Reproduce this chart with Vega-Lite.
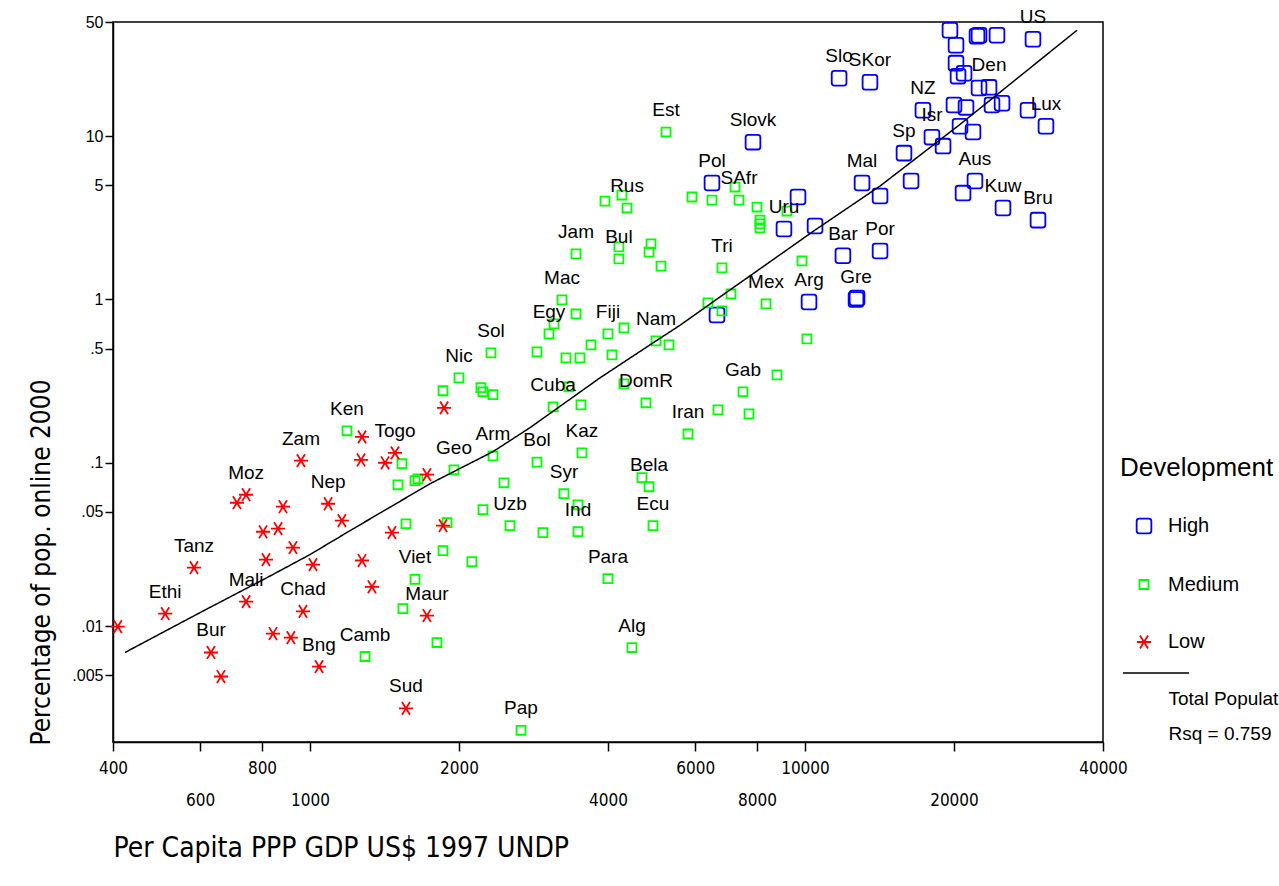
{
  "$schema": "https://vega.github.io/schema/vega-lite/v6.json",
  "width": 990,
  "height": 720,
  "autosize": {"type": "none"},
  "padding": {"left": 113, "top": 22, "right": 176, "bottom": 144},
  "background": "white",
  "config": {"view": {"stroke": "black", "strokeWidth": 1.5}, "font": "Liberation Sans"},
  "datasets": {
    "pts": [
      {"c": "", "d": "High", "x": 19630, "y": 44.5},
      {"c": "", "d": "High", "x": 20190, "y": 36.0},
      {"c": "", "d": "High", "x": 22260, "y": 40.9},
      {"c": "", "d": "High", "x": 22470, "y": 41.5},
      {"c": "", "d": "High", "x": 24430, "y": 41.5},
      {"c": "US", "d": "High", "x": 28880, "y": 39.2},
      {"c": "", "d": "High", "x": 20190, "y": 28.0},
      {"c": "", "d": "High", "x": 20380, "y": 23.3},
      {"c": "", "d": "High", "x": 20960, "y": 24.3},
      {"c": "", "d": "High", "x": 22470, "y": 19.7},
      {"c": "Den", "d": "High", "x": 23540, "y": 19.9},
      {"c": "", "d": "High", "x": 20000, "y": 15.5},
      {"c": "", "d": "High", "x": 21150, "y": 15.0},
      {"c": "", "d": "High", "x": 23870, "y": 15.5},
      {"c": "", "d": "High", "x": 25010, "y": 15.9},
      {"c": "", "d": "High", "x": 28220, "y": 14.4},
      {"c": "Lux", "d": "High", "x": 30680, "y": 11.5},
      {"c": "", "d": "High", "x": 20570, "y": 11.5},
      {"c": "", "d": "High", "x": 21850, "y": 10.6},
      {"c": "NZ", "d": "High", "x": 17310, "y": 14.4},
      {"c": "Isr", "d": "High", "x": 18050, "y": 9.86},
      {"c": "", "d": "High", "x": 19010, "y": 8.69},
      {"c": "Sp", "d": "High", "x": 15850, "y": 7.87},
      {"c": "", "d": "High", "x": 16380, "y": 5.31},
      {"c": "Mal", "d": "High", "x": 13040, "y": 5.16},
      {"c": "", "d": "High", "x": 14180, "y": 4.30},
      {"c": "Aus", "d": "High", "x": 22050, "y": 5.31},
      {"c": "", "d": "High", "x": 20860, "y": 4.48},
      {"c": "Kuw", "d": "High", "x": 25120, "y": 3.63},
      {"c": "Bru", "d": "High", "x": 29560, "y": 3.06},
      {"c": "Slo", "d": "High", "x": 11720, "y": 22.6},
      {"c": "SKor", "d": "High", "x": 13530, "y": 21.4},
      {"c": "Slovk", "d": "High", "x": 7852, "y": 9.19},
      {"c": "Pol", "d": "High", "x": 6488, "y": 5.16},
      {"c": "", "d": "High", "x": 9681, "y": 4.24},
      {"c": "Uru", "d": "High", "x": 9069, "y": 2.70},
      {"c": "", "d": "High", "x": 10480, "y": 2.82},
      {"c": "Bar", "d": "High", "x": 11930, "y": 1.85},
      {"c": "Por", "d": "High", "x": 14180, "y": 1.98},
      {"c": "Arg", "d": "High", "x": 10190, "y": 0.965},
      {"c": "Gre", "d": "High", "x": 12680, "y": 1.0},
      {"c": "", "d": "High", "x": 12740, "y": 1.02},
      {"c": "", "d": "High", "x": 6641, "y": 0.804},
      {"c": "Est", "d": "Medium", "x": 5240, "y": 10.6},
      {"c": "", "d": "Medium", "x": 7224, "y": 4.88},
      {"c": "SAfr", "d": "Medium", "x": 7357, "y": 4.06},
      {"c": "", "d": "Medium", "x": 5912, "y": 4.24},
      {"c": "", "d": "Medium", "x": 6488, "y": 4.06},
      {"c": "", "d": "Medium", "x": 8000, "y": 3.68},
      {"c": "", "d": "Medium", "x": 8113, "y": 3.06},
      {"c": "", "d": "Medium", "x": 8113, "y": 2.90},
      {"c": "", "d": "Medium", "x": 8113, "y": 2.74},
      {"c": "", "d": "Medium", "x": 9195, "y": 3.48},
      {"c": "Rus", "d": "Medium", "x": 4370, "y": 3.63},
      {"c": "", "d": "Medium", "x": 3945, "y": 4.00},
      {"c": "", "d": "Medium", "x": 4268, "y": 4.36},
      {"c": "Jam", "d": "Medium", "x": 3447, "y": 1.90},
      {"c": "Bul", "d": "Medium", "x": 4208, "y": 1.77},
      {"c": "", "d": "Medium", "x": 4208, "y": 2.10},
      {"c": "", "d": "Medium", "x": 4886, "y": 2.19},
      {"c": "", "d": "Medium", "x": 4842, "y": 1.95},
      {"c": "", "d": "Medium", "x": 5119, "y": 1.60},
      {"c": "Tri", "d": "Medium", "x": 6797, "y": 1.56},
      {"c": "", "d": "Medium", "x": 9863, "y": 1.72},
      {"c": "Mac", "d": "Medium", "x": 3230, "y": 0.993},
      {"c": "", "d": "Medium", "x": 3447, "y": 0.815},
      {"c": "Egy", "d": "Medium", "x": 3040, "y": 0.615},
      {"c": "", "d": "Medium", "x": 3112, "y": 0.708},
      {"c": "Fiji", "d": "Medium", "x": 4000, "y": 0.615},
      {"c": "", "d": "Medium", "x": 4309, "y": 0.669},
      {"c": "Nam", "d": "Medium", "x": 5001, "y": 0.557},
      {"c": "", "d": "Medium", "x": 5313, "y": 0.527},
      {"c": "", "d": "Medium", "x": 3696, "y": 0.527},
      {"c": "", "d": "Medium", "x": 2875, "y": 0.477},
      {"c": "", "d": "Medium", "x": 3290, "y": 0.439},
      {"c": "", "d": "Medium", "x": 3511, "y": 0.439},
      {"c": "", "d": "Medium", "x": 4075, "y": 0.458},
      {"c": "Sol", "d": "Medium", "x": 2321, "y": 0.471},
      {"c": "", "d": "Medium", "x": 6368, "y": 0.952},
      {"c": "", "d": "Medium", "x": 6797, "y": 0.850},
      {"c": "", "d": "Medium", "x": 7089, "y": 1.08},
      {"c": "Mex", "d": "Medium", "x": 8343, "y": 0.939},
      {"c": "", "d": "Medium", "x": 10090, "y": 0.573},
      {"c": "Nic", "d": "Medium", "x": 2000, "y": 0.331},
      {"c": "", "d": "Medium", "x": 1857, "y": 0.276},
      {"c": "", "d": "Medium", "x": 2215, "y": 0.288},
      {"c": "", "d": "Medium", "x": 2236, "y": 0.272},
      {"c": "", "d": "Medium", "x": 2343, "y": 0.261},
      {"c": "Cuba", "d": "Medium", "x": 3098, "y": 0.220},
      {"c": "", "d": "Medium", "x": 3337, "y": 0.292},
      {"c": "", "d": "Medium", "x": 3528, "y": 0.226},
      {"c": "DomR", "d": "Medium", "x": 4772, "y": 0.233},
      {"c": "", "d": "Medium", "x": 4309, "y": 0.304},
      {"c": "Gab", "d": "Medium", "x": 7495, "y": 0.272},
      {"c": "", "d": "Medium", "x": 8781, "y": 0.345},
      {"c": "", "d": "Medium", "x": 7708, "y": 0.199},
      {"c": "", "d": "Medium", "x": 6673, "y": 0.211},
      {"c": "Iran", "d": "Medium", "x": 5804, "y": 0.150},
      {"c": "Ken", "d": "Medium", "x": 1188, "y": 0.157},
      {"c": "", "d": "Medium", "x": 1534, "y": 0.0986},
      {"c": "", "d": "Medium", "x": 1506, "y": 0.0733},
      {"c": "", "d": "Medium", "x": 1630, "y": 0.0776},
      {"c": "", "d": "Medium", "x": 1653, "y": 0.0798},
      {"c": "Geo", "d": "Medium", "x": 1954, "y": 0.0906},
      {"c": "Arm", "d": "Medium", "x": 2343, "y": 0.110},
      {"c": "Bol", "d": "Medium", "x": 2875, "y": 0.101},
      {"c": "Kaz", "d": "Medium", "x": 3544, "y": 0.115},
      {"c": "Syr", "d": "Medium", "x": 3260, "y": 0.0646},
      {"c": "", "d": "Medium", "x": 3479, "y": 0.0553},
      {"c": "Uzb", "d": "Medium", "x": 2536, "y": 0.0412},
      {"c": "", "d": "Medium", "x": 2236, "y": 0.0516},
      {"c": "", "d": "Medium", "x": 2466, "y": 0.0754},
      {"c": "", "d": "Medium", "x": 2956, "y": 0.0373},
      {"c": "Ind", "d": "Medium", "x": 3479, "y": 0.0378},
      {"c": "", "d": "Medium", "x": 1563, "y": 0.0423},
      {"c": "", "d": "Medium", "x": 1892, "y": 0.0430},
      {"c": "Bela", "d": "Medium", "x": 4842, "y": 0.0713},
      {"c": "", "d": "Medium", "x": 4685, "y": 0.0810},
      {"c": "Ecu", "d": "Medium", "x": 4931, "y": 0.0412},
      {"c": "", "d": "Medium", "x": 1857, "y": 0.0290},
      {"c": "Viet", "d": "Medium", "x": 1630, "y": 0.0193},
      {"c": "", "d": "Medium", "x": 2124, "y": 0.0248},
      {"c": "", "d": "Medium", "x": 1541, "y": 0.0128},
      {"c": "", "d": "Medium", "x": 1805, "y": 0.00793},
      {"c": "Camb", "d": "Medium", "x": 1292, "y": 0.00651},
      {"c": "Para", "d": "Medium", "x": 4000, "y": 0.0195},
      {"c": "Alg", "d": "Medium", "x": 4472, "y": 0.00739},
      {"c": "Pap", "d": "Medium", "x": 2669, "y": 0.0023},
      {"c": "", "d": "Low", "x": 409, "y": 0.00993},
      {"c": "Ethi", "d": "Low", "x": 510, "y": 0.0119},
      {"c": "Tanz", "d": "Low", "x": 583, "y": 0.0228},
      {"c": "Bur", "d": "Low", "x": 631, "y": 0.00689},
      {"c": "", "d": "Low", "x": 661, "y": 0.00491},
      {"c": "Mali", "d": "Low", "x": 743, "y": 0.0141},
      {"c": "Moz", "d": "Low", "x": 743, "y": 0.0637},
      {"c": "", "d": "Low", "x": 712, "y": 0.0569},
      {"c": "", "d": "Low", "x": 804, "y": 0.0378},
      {"c": "", "d": "Low", "x": 862, "y": 0.0395},
      {"c": "", "d": "Low", "x": 882, "y": 0.0538},
      {"c": "", "d": "Low", "x": 815, "y": 0.0255},
      {"c": "", "d": "Low", "x": 924, "y": 0.0302},
      {"c": "Zam", "d": "Low", "x": 959, "y": 0.103},
      {"c": "Chad", "d": "Low", "x": 968, "y": 0.0123},
      {"c": "", "d": "Low", "x": 842, "y": 0.0090},
      {"c": "", "d": "Low", "x": 915, "y": 0.0085},
      {"c": "", "d": "Low", "x": 1014, "y": 0.0238},
      {"c": "Bng", "d": "Low", "x": 1043, "y": 0.00565},
      {"c": "Nep", "d": "Low", "x": 1088, "y": 0.0561},
      {"c": "", "d": "Low", "x": 1160, "y": 0.0442},
      {"c": "Togo", "d": "Low", "x": 1485, "y": 0.115},
      {"c": "", "d": "Low", "x": 1274, "y": 0.144},
      {"c": "", "d": "Low", "x": 1268, "y": 0.104},
      {"c": "", "d": "Low", "x": 1418, "y": 0.100},
      {"c": "", "d": "Low", "x": 1274, "y": 0.0252},
      {"c": "", "d": "Low", "x": 1334, "y": 0.0174},
      {"c": "", "d": "Low", "x": 1464, "y": 0.0373},
      {"c": "", "d": "Low", "x": 1723, "y": 0.0845},
      {"c": "", "d": "Low", "x": 1857, "y": 0.0412},
      {"c": "", "d": "Low", "x": 1866, "y": 0.217},
      {"c": "Maur", "d": "Low", "x": 1723, "y": 0.0116},
      {"c": "Sud", "d": "Low", "x": 1563, "y": 0.00313}
    ],
    "fit": [
      {"s": "Total Population", "x": 423, "y": 0.00689},
      {"s": "Total Population", "x": 600, "y": 0.0121},
      {"s": "Total Population", "x": 819, "y": 0.0198},
      {"s": "Total Population", "x": 1000, "y": 0.0274},
      {"s": "Total Population", "x": 1205, "y": 0.0384},
      {"s": "Total Population", "x": 1748, "y": 0.0744},
      {"s": "Total Population", "x": 2343, "y": 0.117},
      {"s": "Total Population", "x": 2783, "y": 0.164},
      {"s": "Total Population", "x": 3854, "y": 0.331},
      {"s": "Total Population", "x": 4931, "y": 0.542},
      {"s": "Total Population", "x": 5592, "y": 0.695},
      {"s": "Total Population", "x": 6736, "y": 1.036},
      {"s": "Total Population", "x": 10480, "y": 2.66},
      {"s": "Total Population", "x": 14180, "y": 4.95},
      {"s": "Total Population", "x": 20570, "y": 11.8},
      {"s": "Total Population", "x": 35440, "y": 44.5}
    ]
  },
  "encoding": {
    "x": {
      "field": "x", "type": "quantitative",
      "scale": {"type": "log", "domain": [400, 40000], "nice": false},
      "axis": {
        "title": "Per Capita PPP GDP US$ 1997 UNDP",
        "values": [400, 600, 800, 1000, 2000, 4000, 6000, 8000, 10000, 20000, 40000],
        "format": "d",
        "labelExpr": "indexof([600, 1000, 4000, 8000, 20000], datum.value) >= 0 ? ['', datum.label] : datum.label",
        "labelFont": "Liberation Sans Narrow, DejaVu Sans Condensed, Liberation Sans",
        "labelFontSize": 17, "labelColor": "#000", "labelBaseline": "top", "labelLineHeight": 32,
        "labelPadding": 9, "labelOverlap": false, "labelFlush": false, "labelBound": false,
        "tickSize": 9, "tickColor": "#000", "tickWidth": 1.5,
        "domainColor": "#000", "domainWidth": 1.5, "grid": false,
        "titleFont": "Liberation Sans Narrow, DejaVu Sans Condensed, Liberation Sans",
        "titleFontSize": 28, "titleFontWeight": "normal", "titleColor": "#000",
        "titleX": 0, "titleY": 114, "titleAlign": "left", "titleBaseline": "alphabetic"
      }
    },
    "y": {
      "field": "y", "type": "quantitative",
      "scale": {"type": "log", "domain": [0.00195, 50], "nice": false},
      "axis": {
        "title": "Percentage of pop. online 2000",
        "values": [0.005, 0.01, 0.05, 0.1, 0.5, 1, 5, 10, 50],
        "labelExpr": "datum.value < 1 ? substring(toString(datum.value), 1) : toString(datum.value)",
        "labelFont": "Liberation Sans", "labelFontSize": 16, "labelColor": "#000",
        "labelPadding": 2, "labelOverlap": false, "labelBound": false,
        "tickSize": 8, "tickColor": "#000", "tickWidth": 1.5,
        "domainColor": "#000", "domainWidth": 1.5, "grid": false,
        "titleFont": "Liberation Sans Narrow, DejaVu Sans Condensed, Liberation Sans",
        "titleFontSize": 26, "titleFontWeight": "normal", "titleColor": "#000",
        "titleX": -64, "titleY": 723, "titleAlign": "left", "titleAngle": -90, "titleBaseline": "alphabetic"
      }
    }
  },
  "layer": [
    {
      "data": {"name": "pts"},
      "mark": {"type": "point", "filled": false, "strokeWidth": 1.8, "size": 256, "opacity": 1},
      "encoding": {
        "color": {
          "field": "d", "type": "nominal",
          "scale": {"domain": ["High", "Medium", "Low"], "range": ["#0000ff", "#00ff00", "#ff0000"]},
          "legend": {
            "title": "Development", "orient": "none", "legendX": 1007, "legendY": 433,
            "titleFont": "Liberation Sans", "titleFontSize": 26, "titleFontWeight": "normal", "titleColor": "#000",
            "titlePadding": 35, "labelFont": "Liberation Sans", "labelFontSize": 20, "labelColor": "#000",
            "symbolSize": 256, "symbolStrokeWidth": 1.8, "symbolOffset": 14, "labelOffset": 14,
            "rowPadding": 37.5, "padding": 0
          }
        },
        "shape": {
          "field": "d", "type": "nominal",
          "scale": {
            "domain": ["High", "Medium", "Low"],
            "range": [
              "M-0.6,-0.92H0.6Q0.92,-0.92 0.92,-0.6V0.6Q0.92,0.92 0.6,0.92H-0.6Q-0.92,0.92 -0.92,0.6V-0.6Q-0.92,-0.92 -0.6,-0.92Z",
              "M-0.56,-0.56H0.56V0.56H-0.56Z",
              "M-0.88,0H0.88M-0.5,-0.8L0.5,0.8M-0.5,0.8L0.5,-0.8"
            ]
          },
          "legend": {
            "title": "Development", "orient": "none", "legendX": 1007, "legendY": 433,
            "titleFont": "Liberation Sans", "titleFontSize": 26, "titleFontWeight": "normal", "titleColor": "#000",
            "titlePadding": 35, "labelFont": "Liberation Sans", "labelFontSize": 20, "labelColor": "#000",
            "symbolSize": 256, "symbolStrokeWidth": 1.8, "symbolOffset": 14, "labelOffset": 14,
            "rowPadding": 37.5, "padding": 0
          }
        }
      }
    },
    {
      "data": {"name": "fit"},
      "mark": {"type": "line", "color": "#000", "strokeWidth": 1.5},
      "encoding": {
        "strokeDash": {
          "field": "s", "type": "nominal",
          "scale": {"range": [[1, 0]]},
          "legend": {
            "title": null, "orient": "none", "legendX": 1009, "legendY": 617,
            "symbolType": "stroke", "symbolSize": 4356, "symbolStrokeWidth": 1.5, "symbolStrokeColor": "#000",
            "symbolOffset": 0, "labelOffset": -21.5,
            "labelExpr": "[datum.label, 'Rsq = 0.759']",
            "labelFont": "Liberation Sans", "labelFontSize": 19, "labelColor": "#000",
            "labelBaseline": "top", "labelLimit": 400, "padding": 0,
            "encode": {"labels": {"update": {"dy": {"value": 17}, "lineHeight": {"value": 35}}}}
          }
        }
      }
    },
    {
      "data": {"name": "pts"},
      "transform": [{"filter": "datum.c != ''"}],
      "mark": {"type": "text", "dy": -22, "fontSize": 19, "font": "Liberation Sans", "color": "#000", "baseline": "middle", "align": "center"},
      "encoding": {"text": {"field": "c", "type": "nominal"}}
    }
  ]
}
